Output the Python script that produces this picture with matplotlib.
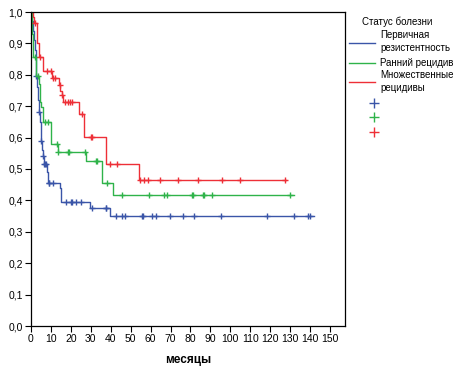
import matplotlib
matplotlib.use("Agg")
import matplotlib.pyplot as plt
from matplotlib.lines import Line2D
import numpy as np

plt.rcParams['font.family'] = ['Liberation Sans', 'DejaVu Sans']

# Первичная резистентность (синий)
blue_t = [0.5, 1.0, 1.5, 2.0, 2.5, 3.2, 3.5, 3.8, 4.5, 4.8, 5.0, 5.5, 5.8, 6.3, 7.8, 8.5, 14.3, 14.8, 29.8, 39.5]
blue_s = [0.97, 0.94, 0.91, 0.88, 0.797, 0.76, 0.72, 0.68, 0.65, 0.62, 0.589, 0.56, 0.541, 0.515, 0.49, 0.457, 0.44, 0.394, 0.375, 0.349]
blue_cens = [2.7, 4.0, 5.0, 5.8, 6.7, 7.1, 7.4, 9.0, 9.2, 11, 17.7, 19.9, 20.4, 22.7, 25.2, 30.4, 37.4, 37.8,
             42.8, 45.8, 47.3, 55.8, 56.2, 60.9, 62.9, 69.9, 76.4, 81.9, 95.5, 118.6, 132.1, 139.1, 140.1]
blue_end = 141.8

# Ранний рецидив (зелёный)
green_t = [0.3, 0.6, 1.0, 2.5, 4.0, 4.3, 4.6, 4.9, 6.2, 10.0, 13.4, 27.4, 35.8, 41.0]
green_s = [0.97, 0.93, 0.858, 0.796, 0.77, 0.74, 0.714, 0.697, 0.651, 0.579, 0.555, 0.525, 0.454, 0.417]
green_cens = [2.0, 3.4, 6.9, 8.5, 13.0, 13.7, 18.7, 19.2, 27.0, 32.6, 33.3, 38.0, 45.8, 59.4, 66.9, 68.4,
              80.6, 81.4, 86.5, 87.0, 91.0, 130.0]
green_end = 131.8

# Множественные рецидивы (красный)
red_t = [0.8, 1.3, 2.8, 3.1, 3.8, 5.8, 10.7, 14.0, 14.7, 15.4, 16.0, 24.2, 26.8, 37.5, 54.4]
red_s = [0.985, 0.965, 0.93, 0.90, 0.858, 0.812, 0.789, 0.767, 0.748, 0.735, 0.712, 0.674, 0.602, 0.515, 0.464]
red_cens = [2.2, 4.4, 7.9, 9.9, 11.2, 12.2, 14.4, 15.6, 17.0, 18.5, 19.5, 20.5, 25.4, 30.3, 30.6, 39.5, 43.0,
            54.6, 56.9, 58.9, 64.9, 73.9, 83.9, 96.0, 105.0, 127.6]
red_end = 127.8

labels = ["Первичная\nрезистентность", "Ранний рецидив", "Множественные\nрецидивы"]
colors = ["#3a55a8", "#2fb34a", "#ee2f37"]

fig = plt.figure(figsize=(4.6, 3.69), dpi=100)
ax = fig.add_axes([31/460, 1-326/369, (345-31)/460, (326-12)/369])

groups = [(blue_t, blue_s, blue_cens, blue_end),
          (green_t, green_s, green_cens, green_end),
          (red_t, red_s, red_cens, red_end)]

for (t, s, cens, end), col in zip(groups, colors):
    x = np.array([0] + t + [end])
    y = np.array([1.0] + s + [s[-1]])
    ax.plot(x, y, drawstyle='steps-post', color=col, lw=1.0)
    # метки цензурирования на уровне ступеньки
    idx = np.searchsorted(x, cens, side='right') - 1
    ax.plot(cens, y[idx], ls='none', marker='+', ms=5, mew=1.0, color=col)

ax.set_xlim(0, 157.5)
ax.set_ylim(0, 1.0)
ax.set_xticks(np.arange(0, 151, 10))
ax.set_yticks(np.arange(0, 1.01, 0.1))
ax.set_yticklabels([f"{v:.1f}".replace('.', ',') for v in np.arange(0, 1.01, 0.1)])
ax.tick_params(length=4, width=0.8, labelsize=7.5, pad=2)
for sp in ax.spines.values():
    sp.set_linewidth(0.9)
ax.set_xlabel("месяцы", fontsize=8.5, fontweight='bold', labelpad=7)

# легенда
def fx(px):
    return px / 460
def fy(py):
    return 1 - py / 369

fig.text(fx(362), fy(22), "Статус болезни", fontsize=7, va='center', ha='left')
for lab, col, ly, ty in zip(labels, colors, [43, 63, 82], [41.5, 63, 81.5]):
    fig.add_artist(Line2D([fx(349), fx(375)], [fy(ly), fy(ly)], color=col, lw=1.0))
    fig.text(fx(380), fy(ty), lab, fontsize=7, va='center', ha='left', linespacing=1.35)
for col, my in zip(colors, [103, 117, 132]):
    fig.add_artist(Line2D([fx(374)], [fy(my)], color=col, marker='+', ms=7.5, mew=1.0))

fig.savefig("out.png", dpi=100)
